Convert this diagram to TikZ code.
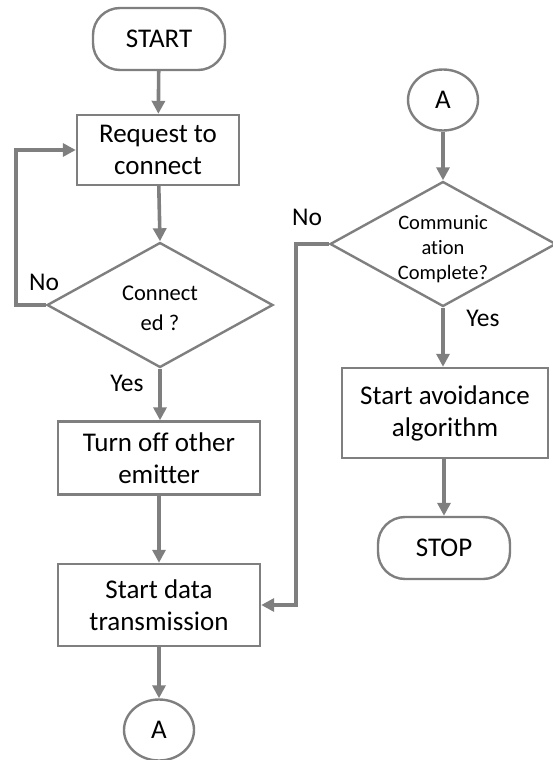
\documentclass[tikz,border=0pt]{standalone}
\usepackage{fontspec}
\setmainfont{Carlito}[Ligatures=NoCommon]
\usetikzlibrary{shapes.geometric,arrows.meta}
\definecolor{linegray}{HTML}{7F7F7F}
\tikzset{
  outline/.style={draw=linegray, line width=2.4pt, fill=white, inner sep=0pt},
  terminal/.style={outline, rectangle, rounded corners=27pt, minimum width=132pt, minimum height=62pt,
    font=\fontsize{27}{32}\selectfont},
  procbox/.style={outline, rectangle, align=center, font=\fontsize{27}{32}\selectfont},
  decision/.style={outline, diamond, minimum width=226pt, minimum height=125pt},
  connector/.style={outline, ellipse, minimum width=70pt, minimum height=61pt,
    font=\fontsize{27}{32}\selectfont},
  conn/.style={draw=linegray, line width=3.6pt, -{Triangle[length=13pt,width=13pt]}},
  tag/.style={font=\fontsize{25.5}{30}\selectfont, inner sep=0pt}
}
\begin{document}
\begin{tikzpicture}[x=1pt,y=-1pt]
\useasboundingbox (0,0) rectangle (553,760);

% left column
\node[terminal] (start) at (159,39) {START};
\node[procbox, minimum width=162pt, minimum height=70pt] (req) at (158,150) {Request to\\connect};
\node[decision] (d1) at (160,305) {};
\node[align=center, font=\fontsize{22.5}{30}\selectfont] (d1t) at (160,308) {Connect\\ed ?};
\node[procbox, minimum width=202pt, minimum height=73pt] (off) at (159,458) {Turn off other\\emitter};
\node[procbox, minimum width=202pt, minimum height=82pt] (data) at (159,605) {Start data\\transmission};
\node[connector] (a1) at (159,730) {A};

% right column
\node[connector] (a2) at (443,100) {A};
\node[decision] (d2) at (443,244) {};
\node[align=center, font=\fontsize{20.5}{25}\selectfont] (d2t) at (443,249) {Communic\\ation\\Complete?};
\node[procbox, minimum width=206pt, minimum height=90pt] (avoid) at (445,413) {Start avoidance\\algorithm};
\node[terminal] (stop) at (444,548) {STOP};

% branch labels
\node[tag] at (44,282) {No};
\node[tag] at (127,383) {Yes};
\node[tag] at (307,217) {No};
\node[tag] at (483,318) {Yes};

% connectors
\draw[conn] (start) -- (req);
\draw[conn] (req) -- (d1.north);
\draw[conn] (d1.west) -- ++(-30,0) |- (req.west);
\draw[conn] (d1.south) -- (d1.south |- off.north);
\draw[conn] (off) -- (data);
\draw[conn] (data) -- (a1);
\draw[conn] (a2) -- (d2.north);
\draw[conn] (d2.south) -- (d2.south |- avoid.north);
\draw[conn] (d2.west) -- ++(-33,0) |- (data.east);
\draw[conn] (avoid.south -| stop.north) -- (stop);
\end{tikzpicture}
\end{document}
